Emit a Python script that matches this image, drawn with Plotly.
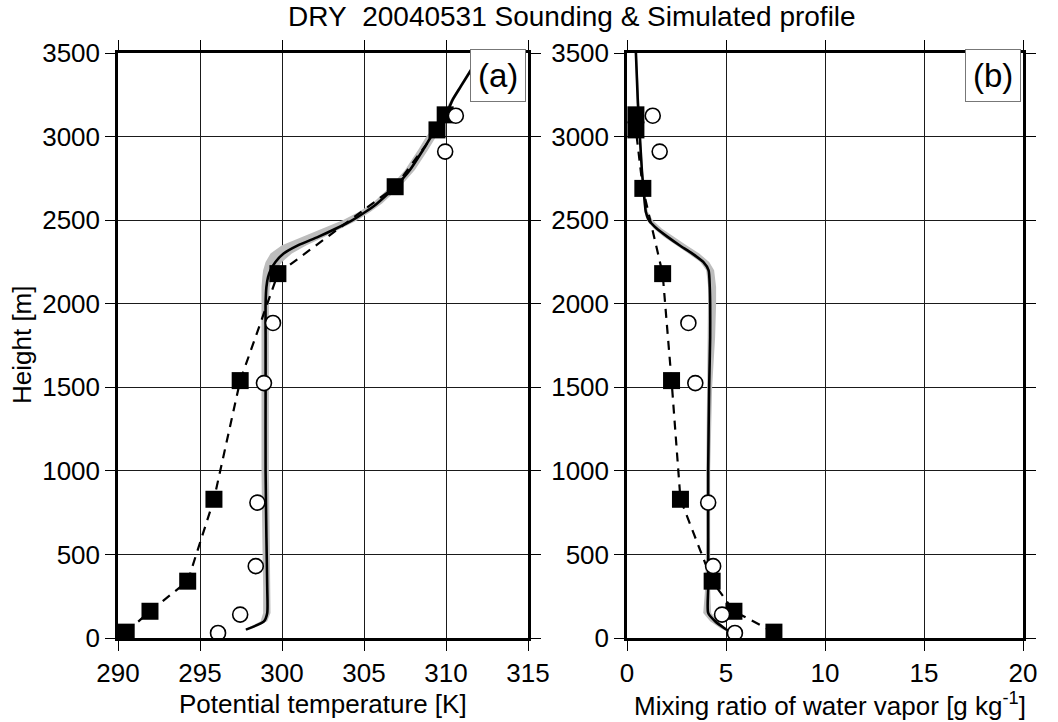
import plotly.graph_objects as go

# ---------------- data ----------------
# Panel (a): potential temperature [K]
snd_a_z = [35, 160, 340, 830, 1540, 2180, 2700, 3040, 3130]
snd_a_x = [290.5, 291.95, 294.25, 295.85, 297.45, 299.75, 306.9, 309.45, 309.95]
obs_a_z = [30, 140, 430, 810, 1525, 1885, 2910, 3125]
obs_a_x = [296.1, 297.45, 298.4, 298.5, 298.9, 299.45, 309.95, 310.6]
sim_a_z = [50, 100, 150, 300, 600, 1000, 1500, 1800, 2000, 2100, 2160, 2200, 2250, 2300,
           2350, 2400, 2450, 2500, 2550, 2600, 2700, 2800, 2920, 3000, 3050, 3130, 3220,
           3300, 3410]
sim_a_x = [297.8, 298.9, 299.1, 299.1, 299.05, 299.0, 299.0, 299.0, 299.0, 299.05, 299.15,
           299.3, 299.6, 300.1, 301.0, 302.2, 303.3, 304.3, 305.1, 305.8, 306.9, 307.8,
           308.6, 309.1, 309.5, 310.0, 310.4, 310.9, 311.6]
band_a_lo = [297.7, 298.7, 298.85, 298.85, 298.8, 298.75, 298.75, 298.75, 298.75, 298.75,
             298.8, 298.85, 299.0, 299.3, 300.0, 301.2, 302.5, 303.7, 304.7, 305.5, 306.6,
             307.5, 308.3, 308.8, 309.2, 309.8, 310.3, 310.8, 311.5]
band_a_hi = [297.9, 299.1, 299.3, 299.3, 299.25, 299.2, 299.2, 299.2, 299.2, 299.25,
             299.4, 299.6, 300.0, 300.6, 301.5, 302.6, 303.6, 304.6, 305.4, 306.1, 307.2,
             308.1, 308.9, 309.4, 309.7, 310.1, 310.5, 311.0, 311.7]

# Panel (b): mixing ratio [g/kg]
snd_b_z = [35, 160, 340, 830, 1540, 2180, 2690, 3040, 3130]
snd_b_x = [7.42, 5.4, 4.3, 2.7, 2.25, 1.8, 0.8, 0.45, 0.45]
obs_b_z = [30, 140, 430, 810, 1525, 1885, 2910, 3125]
obs_b_x = [5.45, 4.8, 4.35, 4.1, 3.45, 3.1, 1.65, 1.3]
sim_b_z = [30, 60, 100, 150, 300, 600, 1000, 1500, 1800, 2000, 2100, 2200, 2250, 2300,
           2350, 2400, 2450, 2500, 2550, 2600, 2700, 2800, 3000, 3200, 3500]
sim_b_x = [5.3, 4.9, 4.45, 4.1, 4.1, 4.1, 4.1, 4.15, 4.2, 4.2, 4.18, 4.12, 3.85, 3.3,
           2.65, 2.05, 1.5, 1.1, 0.95, 0.9, 0.82, 0.75, 0.65, 0.55, 0.45]
band_b_lo = [5.2, 4.7, 4.2, 3.85, 3.95, 4.0, 4.0, 4.05, 4.1, 4.1, 4.1, 4.0, 3.7, 3.1,
             2.45, 1.85, 1.35, 1.0, 0.88, 0.85, 0.78, 0.7, 0.6, 0.5, 0.4]
band_b_hi = [5.4, 5.0, 4.6, 4.25, 4.2, 4.2, 4.2, 4.3, 4.45, 4.5, 4.5, 4.4, 4.15, 3.65,
             3.0, 2.35, 1.75, 1.3, 1.05, 0.98, 0.88, 0.8, 0.7, 0.6, 0.5]

x_ticks_a = [290, 295, 300, 305, 310, 315]
x_ticks_b = [0, 5, 10, 15, 20]
y_ticks = [0, 500, 1000, 1500, 2000, 2500, 3000, 3500]

# ---------------- figure ----------------
FONT = "Liberation Sans, Arial, sans-serif"
fig = go.Figure()

def add_panel(xa, ya, sz, sx, lo, hi, dz, dx, oz, ox):
    fig.add_trace(go.Scatter(x=lo + hi[::-1], y=sz + sz[::-1], fill="toself",
                             fillcolor="#bdbdbd", line=dict(width=0), mode="lines",
                             hoverinfo="skip", xaxis=xa, yaxis=ya, showlegend=False))
    fig.add_trace(go.Scatter(x=dx, y=dz, mode="lines",
                             line=dict(color="black", width=2.2, dash="9px,7px"),
                             xaxis=xa, yaxis=ya, showlegend=False))
    fig.add_trace(go.Scatter(x=sx, y=sz, mode="lines",
                             line=dict(color="black", width=2.6, shape="spline", smoothing=0.6),
                             xaxis=xa, yaxis=ya, showlegend=False))
    fig.add_trace(go.Scatter(x=dx, y=dz, mode="markers",
                             marker=dict(symbol="square", size=17, color="black",
                                         line=dict(width=0)),
                             xaxis=xa, yaxis=ya, showlegend=False))
    fig.add_trace(go.Scatter(x=ox, y=oz, mode="markers",
                             marker=dict(symbol="circle", size=15, color="white",
                                         line=dict(width=1.6, color="black")),
                             xaxis=xa, yaxis=ya, showlegend=False))

add_panel("x", "y", sim_a_z, sim_a_x, band_a_lo, band_a_hi,
          snd_a_z, snd_a_x, obs_a_z, obs_a_x)
add_panel("x2", "y2", sim_b_z, sim_b_x, band_b_lo, band_b_hi,
          snd_b_z, snd_b_x, obs_b_z, obs_b_x)

W, H = 1058, 722
ax_common = dict(showline=True, linecolor="black", linewidth=2.5, mirror="allticks",
                 ticks="outside", ticklen=10, tickwidth=1.2, tickcolor="black",
                 showgrid=True, gridcolor="#1a1a1a", gridwidth=1, zeroline=False,
                 automargin=False,
                 tickfont=dict(family=FONT, size=26, color="black"))

fig.update_layout(
    template="none",
    width=W, height=H,
    margin=dict(l=0, r=0, t=0, b=0, pad=0),
    paper_bgcolor="white", plot_bgcolor="white",
    xaxis=dict(domain=[118 / W, 528 / W], range=[290, 315], tickvals=x_ticks_a,
               anchor="y", **ax_common),
    yaxis=dict(domain=[1 - 638 / H, 1 - 53 / H], range=[0, 3500], tickvals=y_ticks,
               anchor="x", **ax_common),
    xaxis2=dict(domain=[627 / W, 1023 / W], range=[0, 20], tickvals=x_ticks_b,
                anchor="y2", **ax_common),
    yaxis2=dict(domain=[1 - 638 / H, 1 - 53 / H], range=[0, 3500], tickvals=y_ticks,
                anchor="x2", **ax_common),
)

def ann(text, x, y, size=26, xanchor="center", yanchor="middle", **kw):
    fig.add_annotation(text=text, x=x / W, y=1 - y / H, xref="paper", yref="paper",
                       showarrow=False, xanchor=xanchor, yanchor=yanchor,
                       font=dict(family=FONT, size=size, color="black"), **kw)

ann("DRY&nbsp;&nbsp;20040531 Sounding &amp; Simulated profile", 572, 17, size=28)
ann("Potential temperature [K]", 323, 704)
ann("Mixing ratio of water vapor [g kg<sup>-1</sup>]", 830, 704)
ann("Height [m]", 22, 345, textangle=-90)
ann("(a)", 526, 49, size=33, xanchor="right", yanchor="top", bordercolor="#777",
    borderwidth=1, borderpad=7, bgcolor="white")
ann("(b)", 1021, 49, size=33, xanchor="right", yanchor="top", bordercolor="#777",
    borderwidth=1, borderpad=7, bgcolor="white")

fig.write_html("out.html")
